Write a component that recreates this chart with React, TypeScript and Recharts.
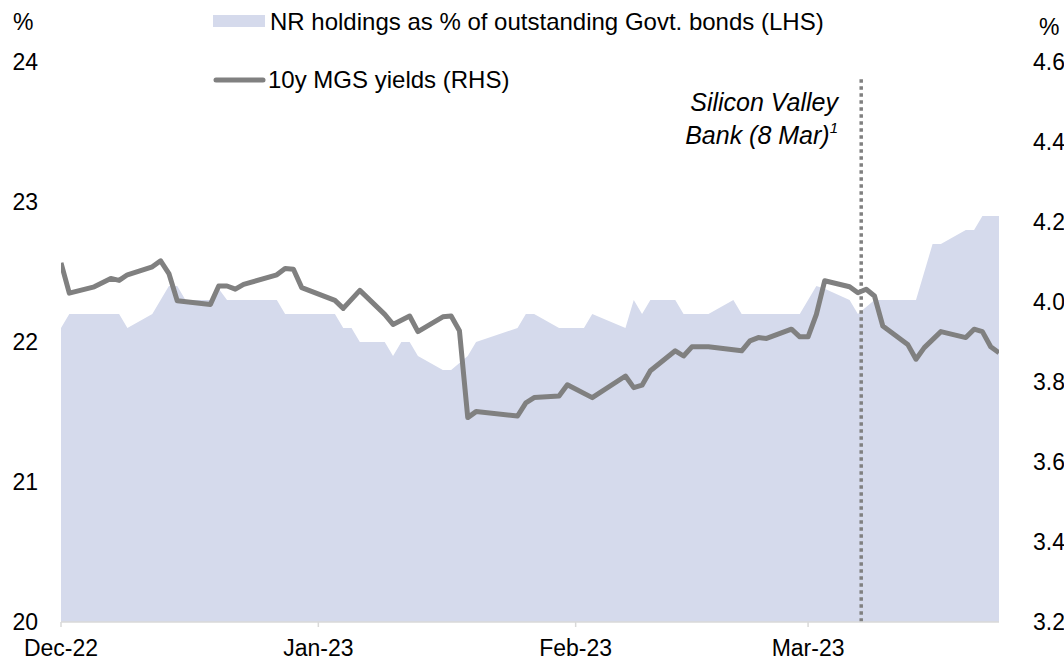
import React from 'react';
import { ComposedChart, Area, Line, XAxis, YAxis, ReferenceLine } from 'recharts';

const FONT = '"Liberation Sans", Arial, Helvetica, sans-serif';
const AREA_COLOR = '#D5DAEC';
const LINE_COLOR = '#808080';

// x positions are days since 1 Dec 2022
const nrDays = [0, 1, 7, 8, 11, 13, 14, 15, 18, 19, 20, 26, 27, 33, 34, 35, 36, 39, 40, 41, 42, 43, 46, 47, 48, 49, 50, 55, 56, 57, 60, 63, 64, 68, 69, 70, 71, 74, 75, 78, 81, 82, 89, 91, 92, 95, 96, 98, 103, 105, 106, 109, 110, 111, 113];
const nrValues = [22.1, 22.2, 22.2, 22.1, 22.2, 22.4, 22.4, 22.3, 22.3, 22.38, 22.3, 22.3, 22.2, 22.2, 22.1, 22.1, 22.0, 22.0, 21.9, 22.0, 22.0, 21.9, 21.8, 21.8, 21.85, 21.9, 22.0, 22.1, 22.2, 22.2, 22.1, 22.1, 22.2, 22.1, 22.3, 22.2, 22.3, 22.3, 22.2, 22.2, 22.3, 22.2, 22.2, 22.4, 22.38, 22.3, 22.2, 22.3, 22.3, 22.7, 22.7, 22.8, 22.8, 22.9, 22.9];

const mgsDays = [0, 1, 4, 6, 7, 8, 11, 12, 13, 14, 18, 19, 20, 21, 22, 26, 27, 28, 29, 33, 34, 36, 39, 40, 42, 43, 46, 47, 48, 49, 50, 55, 56, 57, 60, 61, 64, 68, 69, 70, 71, 74, 75, 76, 78, 82, 83, 84, 85, 88, 89, 90, 91, 92, 95, 96, 97, 98, 99, 102, 103, 104, 106, 109, 110, 111, 112, 113];
const mgsValues = [4.098, 4.022, 4.038, 4.059, 4.054, 4.068, 4.088, 4.103, 4.071, 4.003, 3.994, 4.040, 4.040, 4.032, 4.044, 4.068, 4.084, 4.082, 4.036, 4.004, 3.984, 4.029, 3.969, 3.944, 3.965, 3.926, 3.963, 3.965, 3.928, 3.711, 3.726, 3.715, 3.748, 3.761, 3.765, 3.793, 3.761, 3.815, 3.786, 3.792, 3.828, 3.878, 3.865, 3.888, 3.888, 3.878, 3.903, 3.911, 3.909, 3.932, 3.913, 3.913, 3.969, 4.053, 4.038, 4.023, 4.032, 4.015, 3.940, 3.894, 3.857, 3.886, 3.926, 3.911, 3.932, 3.926, 3.888, 3.873];

const tickDays = [0, 31, 62, 90];
const tickLabels = ['Dec-22', 'Jan-23', 'Feb-23', 'Mar-23'];
const leftTicks = [20, 21, 22, 23, 24];
const rightTicks = [3.2, 3.4, 3.6, 3.8, 4.0, 4.2, 4.4, 4.6];
const seriesNames = ['NR holdings as % of outstanding Govt. bonds (LHS)', '10y MGS yields (RHS)'];
const eventDay = 96.4; // Silicon Valley Bank, as placed in the source
const eventTop = 4.557;

const nrData = nrDays.map((d, i) => ({ day: d, nr: nrValues[i] }));
const mgsData = mgsDays.map((d, i) => ({ day: d, mgs: mgsValues[i] }));

const tickStyle = { fill: '#000', fontSize: 23, fontFamily: FONT };

export default function App() {
  return (
    <div style={{ position: 'absolute', left: 0, top: 0, width: 1064, height: 663, background: '#fff', fontFamily: FONT }}>
      <ComposedChart width={1064} height={663} margin={{ top: 62, right: 0, bottom: 0, left: 0 }}>
        <XAxis
          dataKey="day"
          type="number"
          domain={[0, 113]}
          ticks={tickDays}
          interval={0}
          allowDataOverflow
          tickFormatter={(v) => tickLabels[tickDays.indexOf(v)]}
          height={41}
          axisLine={{ stroke: '#D9D9D9', strokeWidth: 1.5 }}
          tickLine={{ stroke: '#D9D9D9', strokeWidth: 1.5 }}
          tickSize={5}
          tickMargin={13}
          tick={tickStyle}
        />
        <YAxis
          yAxisId="left"
          orientation="left"
          domain={[20, 24]}
          ticks={leftTicks}
          interval={0}
          width={61}
          axisLine={false}
          tickLine={false}
          tickSize={0}
          tickMargin={23}
          tick={tickStyle}
        />
        <YAxis
          yAxisId="right"
          orientation="right"
          domain={[3.2, 4.6]}
          ticks={rightTicks}
          interval={0}
          width={65}
          axisLine={false}
          tickLine={false}
          tickSize={0}
          tickMargin={34}
          tickFormatter={(v) => Number(v).toFixed(1)}
          tick={tickStyle}
        />
        <Area
          yAxisId="left"
          data={nrData}
          dataKey="nr"
          type="linear"
          fill={AREA_COLOR}
          fillOpacity={1}
          stroke="none"
          baseValue="dataMin"
          isAnimationActive={false}
          dot={false}
          activeDot={false}
          name={seriesNames[0]}
        />
        <ReferenceLine
          yAxisId="right"
          segment={[{ x: eventDay, y: eventTop }, { x: eventDay, y: 3.2 }]}
          stroke={LINE_COLOR}
          strokeWidth={3.5}
          strokeDasharray="3.5 3.5"
        />
        <Line
          yAxisId="right"
          data={mgsData}
          dataKey="mgs"
          type="linear"
          stroke={LINE_COLOR}
          strokeWidth={5}
          strokeLinejoin="round"
          dot={false}
          activeDot={false}
          isAnimationActive={false}
          name={seriesNames[1]}
        />
      </ComposedChart>
      <svg width={1064} height={663} style={{ position: 'absolute', left: 0, top: 0, pointerEvents: 'none' }}>
        <text x={13} y={30} fontSize={23} fontFamily={FONT} fill="#000">%</text>
        <text x={1039} y={35} fontSize={23} fontFamily={FONT} fill="#000">%</text>
        <rect x={213} y={15} width={52} height={12} fill={AREA_COLOR} />
        <text x={270} y={30} fontSize={24} fontFamily={FONT} fill="#000">{seriesNames[0]}</text>
        <line x1={216} y1={80} x2={263} y2={80} stroke={LINE_COLOR} strokeWidth={5} strokeLinecap="round" />
        <text x={268} y={88} fontSize={24} fontFamily={FONT} fill="#000">{seriesNames[1]}</text>
        <text x={838} y={111} fontSize={25} fontFamily={FONT} fontStyle="italic" fill="#000" textAnchor="end">Silicon Valley</text>
        <text x={838} y={144} fontSize={25} fontFamily={FONT} fontStyle="italic" fill="#000" textAnchor="end">
          Bank (8 Mar)<tspan fontSize={15} dy={-11}>1</tspan>
        </text>
      </svg>
    </div>
  );
}
